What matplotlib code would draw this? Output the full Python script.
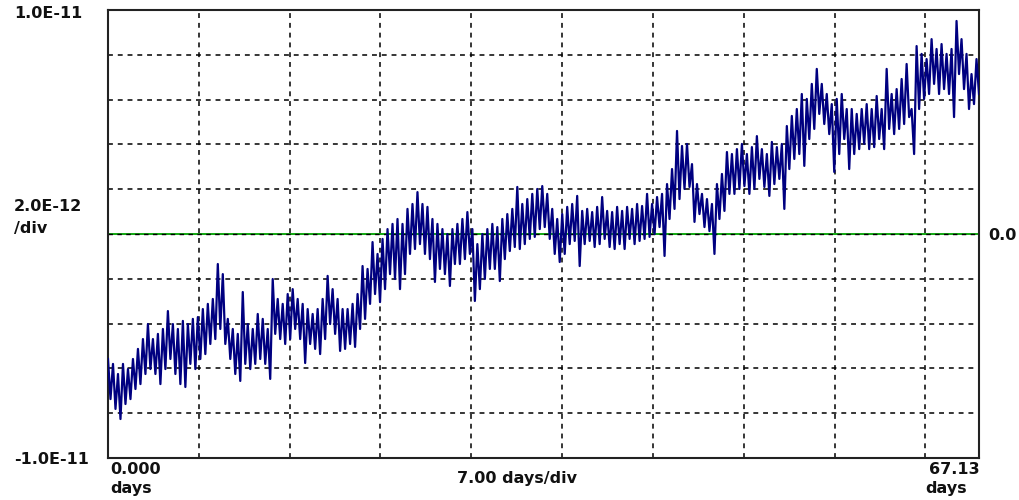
import numpy as np
import matplotlib
matplotlib.use("Agg")
import matplotlib.pyplot as plt

# ---- data (values in units of 1e-12) ----
span_days = 67.13
days_per_div = 7.0
per_div = 2.0e-12
y_top_label = "1.0E-11"
y_bot_label = "-1.0E-11"

# upper / lower excursions of the trace, left to right
trace_hi = [
    -5.58, -5.80, -6.25, -5.80, -6.03, -5.58, -5.13, -4.69, -4.02, -4.69,
    -4.46, -4.24, -3.44, -4.02, -4.24, -3.88, -4.02, -3.79, -3.71, -3.35,
    -3.12, -2.90, -1.34, -1.79, -3.79, -4.24, -4.46, -2.59, -4.02, -4.24,
    -3.57, -3.79, -4.24, -2.01, -2.90, -3.12, -2.68, -2.46, -2.90, -3.12,
    -3.35, -3.57, -3.35, -2.90, -1.87, -2.46, -2.90, -3.35, -3.35, -3.12,
    -2.68, -1.43, -1.56, -0.36, -0.89, -0.22, 0.22, 0.45, 0.67, 0.45,
    1.12, 1.34, 1.87, 1.34, 1.21, 0.67, 0.45, 0.22, 0.00, 0.22,
    0.45, 0.67, 0.98, 0.22, -0.45, 0.00, 0.22, 0.45, 0.31, 0.67,
    0.89, 1.12, 2.10, 1.34, 1.56, 1.79, 2.01, 2.14, 1.79, 1.12,
    0.67, 0.89, 1.21, 1.34, 1.70, 1.03, 1.12, 0.98, 1.21, 1.65,
    1.03, 0.98, 1.21, 1.03, 1.21, 1.12, 1.34, 1.25, 1.79, 1.34,
    1.65, 1.79, 2.23, 2.90, 4.60, 3.93, 4.02, 3.12, 2.23, 1.79,
    1.56, 1.34, 2.23, 2.68, 3.66, 3.57, 3.79, 4.02, 3.57, 3.88,
    4.37, 3.79, 3.57, 4.11, 3.88, 4.02, 4.82, 5.27, 5.58, 6.25,
    6.03, 6.70, 7.37, 6.70, 6.25, 5.80, 6.03, 6.25, 5.58, 5.58,
    5.36, 5.58, 5.80, 5.58, 6.16, 5.58, 7.37, 6.25, 6.47, 6.92,
    7.59, 5.58, 8.39, 8.04, 7.81, 8.70, 8.26, 8.48, 8.04, 8.26,
    9.51, 8.70, 8.04, 7.14, 7.81,
]
trace_lo = [
    -7.37, -7.81, -8.26, -7.59, -7.37, -6.92, -6.70, -6.25, -6.03, -6.25,
    -6.70, -6.03, -5.58, -6.25, -6.70, -6.83, -5.80, -6.03, -5.58, -5.36,
    -4.91, -4.69, -4.24, -4.91, -5.58, -6.25, -6.56, -5.80, -6.03, -5.80,
    -5.58, -5.80, -6.47, -4.46, -4.69, -4.91, -4.69, -4.24, -4.69, -5.76,
    -4.91, -5.13, -5.36, -4.69, -4.02, -4.46, -5.22, -5.13, -4.91, -5.04,
    -4.24, -3.79, -3.12, -2.68, -3.04, -2.46, -1.79, -2.01, -2.46, -1.79,
    -0.89, -0.67, -0.45, -0.89, -1.12, -2.14, -1.56, -1.79, -2.32, -1.34,
    -1.34, -1.12, -0.89, -2.99, -2.46, -2.01, -1.56, -1.56, -2.10, -1.12,
    -0.76, -0.58, -0.67, -0.45, -0.22, -0.13, 0.22, 0.31, -0.22, -0.89,
    -1.25, -0.89, -0.45, -0.31, -1.43, -0.45, -0.31, -0.58, -0.45, -0.22,
    -0.58, -0.67, -0.45, -0.67, -0.22, -0.45, -0.31, -0.22, -0.13, 0.00,
    0.31, -0.98, 0.67, 1.12, 1.56, 2.01, 2.10, 0.54, 0.89, 0.31,
    0.13, -0.89, 0.67, 1.03, 1.79, 1.79, 2.01, 2.14, 1.79, 2.01,
    2.46, 2.10, 1.70, 2.23, 2.46, 1.12, 2.90, 3.35, 3.57, 3.04,
    4.24, 4.69, 5.36, 4.91, 4.46, 2.77, 3.57, 4.24, 2.90, 3.57,
    3.79, 4.02, 3.79, 3.88, 4.24, 3.79, 4.69, 4.46, 4.69, 4.91,
    5.22, 3.57, 5.58, 6.03, 6.25, 6.70, 6.25, 6.47, 6.25, 5.22,
    7.14, 6.47, 5.58, 5.80, 6.25,
]

# interleave the high and low readings into the sampled trace
trace = np.empty(len(trace_hi) * 2)
trace[0::2] = trace_hi
trace[1::2] = trace_lo
trace = trace * 1e-12
days = np.linspace(0.0, span_days, len(trace))

# ---- figure ----
fig = plt.figure(figsize=(10.2, 5.0), dpi=100)
ax = fig.add_axes([108 / 1020, 42 / 500, 871 / 1020, 448 / 500])

ax.set_xlim(0, span_days)
ax.set_ylim(-5 * per_div, 5 * per_div)

dash = (0, (3.2, 3.2))
for k in range(1, int(span_days // days_per_div) + 1):
    ax.axvline(k * days_per_div, color="black", lw=1.1, linestyle=dash, zorder=1)
for k in range(-4, 5):
    if k == 0:
        continue
    ax.axhline(k * per_div, color="black", lw=1.1, linestyle=dash, zorder=1)
ax.axhline(0.0, color="#00a000", lw=1.3, zorder=1)
ax.axhline(0.0, color="black", lw=1.0, linestyle=dash, zorder=1.5)

ax.plot(days, trace, color="#000080", lw=1.6, zorder=3)

ax.set_xticks([])
ax.set_yticks([])
for s in ax.spines.values():
    s.set_color("#222222")
    s.set_linewidth(1.5)

font = dict(family=["DejaVu Sans"], weight="bold", size=11.5, color="#111111")

def px(x, y):
    return x / 1020, 1 - y / 500

fig.text(*px(14, 14), y_top_label, ha="left", va="center", **font)
fig.text(*px(14, 207), "2.0E-12", ha="left", va="center", **font)
fig.text(*px(14, 228), "/div", ha="left", va="center", **font)
fig.text(*px(14, 459), y_bot_label, ha="left", va="center", **font)
fig.text(*px(110, 470), "0.000", ha="left", va="center", **font)
fig.text(*px(110, 489), "days", ha="left", va="center", **font)
fig.text(*px(517, 479), "7.00 days/div", ha="center", va="center", **font)
fig.text(*px(980, 470), "67.13", ha="right", va="center", **font)
fig.text(*px(925, 489), "days", ha="left", va="center", **font)
fig.text(*px(988, 235), "0.0", ha="left", va="center", **font)

fig.savefig("out.png", dpi=100, facecolor="white")
